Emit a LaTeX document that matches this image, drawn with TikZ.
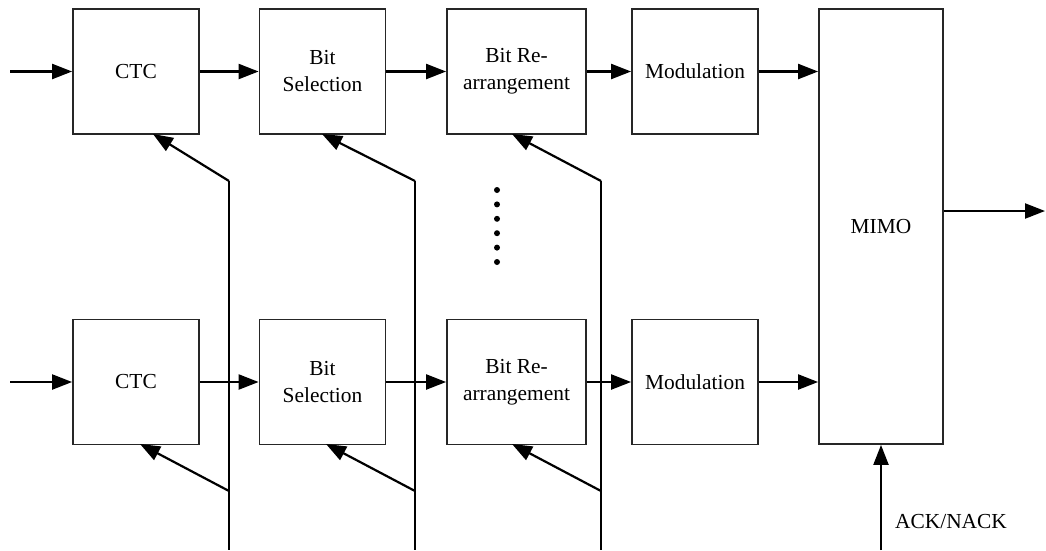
\documentclass[tikz,border=0pt]{standalone}
\usepackage{fontspec}
\setmainfont{Liberation Serif}
\usetikzlibrary{arrows.meta}
\begin{document}
\begin{tikzpicture}[x=1pt,y=-1pt,
  blk/.style={draw=black!85,line width=1.8pt,minimum width=126pt,minimum height=125pt,inner sep=0pt,align=center,font=\fontsize{21.4}{27}\selectfont},
  conn/.style={line width=2.2pt,-{Triangle[length=20pt,width=15pt]}},
  wire/.style={line width=2.2pt},
  lbl/.style={font=\fontsize{21.4}{27}\selectfont}]
\useasboundingbox (0,0) rectangle (1046,550);
% top row
\node[blk] (c1) at (136,71.5) {CTC};
\node[blk] (s1) at (322.5,71.5) {Bit\\Selection};
\node[blk,minimum width=139pt] (r1) at (516.5,71.5) {Bit Re-\\arrangement};
\node[blk] (m1) at (695,71.5) {Modulation};
% bottom row
\node[blk] (c2) at (136,382) {CTC};
\node[blk] (s2) at (322.5,382) {Bit\\Selection};
\node[blk,minimum width=139pt] (r2) at (516.5,382) {Bit Re-\\arrangement};
\node[blk] (m2) at (695,382) {Modulation};
% MIMO
\node[blk,minimum width=124pt,minimum height=435pt] (mimo) at (881,226.5) {MIMO};
% coordinates
\coordinate (in1) at (10,71.5);
\coordinate (in2) at (10,382);
\coordinate (out) at (1045,211);
\coordinate (ack) at (881,550);
\coordinate (f1t) at (229,181);
\coordinate (f2t) at (415,181);
\coordinate (f3t) at (601,181);
\coordinate (f1b) at (229,491);
\coordinate (f2b) at (415,491);
\coordinate (f3b) at (601,491);
\coordinate (f1e) at (229,550);
\coordinate (f2e) at (415,550);
\coordinate (f3e) at (601,550);
\coordinate (t1) at (153,134);
\coordinate (t2) at (322,134);
\coordinate (t3) at (512,134);
\coordinate (b1) at (140,444);
\coordinate (b2) at (326,444);
\coordinate (b3) at (512,444);
% vertical feedback lines
\draw[wire] (f1t) -- (f1e);
\draw[wire] (f2t) -- (f2e);
\draw[wire] (f3t) -- (f3e);
% diagonals
\draw[conn] (f1t) -- (t1);
\draw[conn] (f2t) -- (t2);
\draw[conn] (f3t) -- (t3);
\draw[conn] (f1b) -- (b1);
\draw[conn] (f2b) -- (b2);
\draw[conn] (f3b) -- (b3);
% chain arrows
\draw[conn] (in1) -- (c1.west);
\draw[conn] (c1) -- (s1);
\draw[conn] (s1) -- (r1);
\draw[conn] (r1) -- (m1);
\draw[conn] (m1.east) -- (m1.east -| mimo.west);
\draw[conn] (in2) -- (c2.west);
\draw[conn] (c2) -- (s2);
\draw[conn] (s2) -- (r2);
\draw[conn] (r2) -- (m2);
\draw[conn] (m2.east) -- (m2.east -| mimo.west);
\draw[conn] (out -| mimo.east) -- (out);
\draw[conn] (ack) -- (mimo.south);
\node[lbl] (acklbl) at (951,522) {ACK/NACK};
% dots
\foreach \i in {0,...,5} \fill (497,190+14.4*\i) circle (3pt);
\end{tikzpicture}
\end{document}
